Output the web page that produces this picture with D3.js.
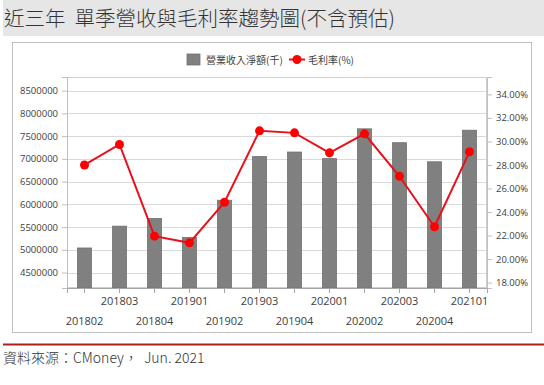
<!DOCTYPE html>
<html>
<head>
<meta charset="utf-8">
<script src="https://cdn.jsdelivr.net/npm/d3@7"></script>
<style>
  body { margin: 0; background: #fff; }
  svg text { font-family: "Open Sans", "Noto Sans CJK TC", sans-serif; white-space: pre; }
</style>
</head>
<body>
<div id="chart"></div>
<script>
// data
var quarters = ["201802","201803","201804","201901","201902","201903",
                "201904","202001","202002","202003","202004","202101"];
var revenue = [5040000, 5520000, 5690000, 5270000, 6090000, 7050000,
               7150000, 7005000, 7660000, 7355000, 6935000, 7630000];
var margin_pct = [28.0, 29.74, 21.95, 21.38, 24.83, 30.9,
                  30.73, 29.03, 30.65, 27.04, 22.75, 29.12];
var leftTicks = [4500000, 5000000, 5500000, 6000000, 6500000, 7000000, 7500000, 8000000, 8500000];
var rightTicks = [18, 20, 22, 24, 26, 28, 30, 32, 34];

var width = 544, height = 385;
var plot = {left: 67, right: 487, top: 77, bottom: 288};

var svg = d3.select("#chart").append("svg")
  .attr("width", width)
  .attr("height", height);

// title bar
svg.append("rect").attr("x", 3).attr("y", 0).attr("width", width - 3).attr("height", 36)
  .attr("fill", "#e6e6e6");
svg.append("text")
  .attr("x", 4).attr("y", 26)
  .style("font-family", "'Noto Sans CJK TC', sans-serif")
  .style("font-size", "20.5px")
  .style("font-weight", 300)
  .attr("fill", "#333")
  .text("近三年  單季營收與毛利率趨勢圖(不含預估)");

// chart frame
svg.append("rect").attr("x", 12.5).attr("y", 42.5).attr("width", 519).attr("height", 290)
  .attr("fill", "#fff").attr("stroke", "#bfbfbf");

var x = d3.scaleBand().domain(quarters).range([plot.left, plot.right]).paddingInner(0.6).paddingOuter(0.3);
var yL = d3.scaleLinear().domain([4160000, 8800000]).range([plot.bottom, plot.top]);
var yR = d3.scaleLinear().domain([17.54, 35.48]).range([plot.bottom, plot.top]);

// gridlines
svg.append("g").selectAll("line").data(leftTicks).enter().append("line")
  .attr("x1", plot.left).attr("x2", plot.right)
  .attr("y1", function(d){ return Math.round(yL(d)) + 0.5; })
  .attr("y2", function(d){ return Math.round(yL(d)) + 0.5; })
  .attr("stroke", "#d9d9d9");

// plot border
svg.append("rect").attr("x", plot.left + 0.5).attr("y", plot.top + 0.5)
  .attr("width", plot.right - plot.left - 1).attr("height", plot.bottom - plot.top - 1)
  .attr("fill", "none").attr("stroke", "#d0d0d0");

// bars
svg.append("g").selectAll("rect").data(revenue).enter().append("rect")
  .attr("x", function(d, i){ return x(quarters[i]); })
  .attr("width", x.bandwidth())
  .attr("y", function(d){ return yL(d); })
  .attr("height", function(d){ return plot.bottom - yL(d); })
  .attr("fill", "#808080")
  .attr("stroke", "#707070")
  .attr("stroke-width", 0.8);

// left axis
var axL = svg.append("g").attr("transform", "translate(" + plot.left + ",0)")
  .call(d3.axisLeft(yL).tickValues(leftTicks).tickSize(5).tickPadding(4).tickFormat(d3.format("d")));
axL.select(".domain").attr("stroke", "#bfbfbf");
axL.selectAll(".tick line").attr("stroke", "#bfbfbf");
axL.selectAll("text").attr("fill", "#404040").style("font-size", "9.5px");

// right axis
var axR = svg.append("g").attr("transform", "translate(" + plot.right + ",0)")
  .call(d3.axisRight(yR).tickValues(rightTicks).tickSize(5).tickPadding(4)
    .tickFormat(function(d){ return d.toFixed(2) + "%"; }));
axR.select(".domain").attr("stroke", "#bfbfbf");
axR.selectAll(".tick line").attr("stroke", "#bfbfbf");
axR.selectAll("text").attr("fill", "#404040").style("font-size", "9.5px");

// bottom axis
var axB = svg.append("g").attr("transform", "translate(0," + plot.bottom + ")")
  .call(d3.axisBottom(x).tickSize(5).tickPadding(4));
axB.select(".domain").attr("stroke", "#a6a6a6");
axB.selectAll(".tick line").attr("stroke", "#a6a6a6");
axB.selectAll("text")
  .attr("fill", "#404040")
  .style("font-size", "11px")
  .attr("dy", function(d, i){ return i % 2 == 0 ? "2.55em" : "0.75em"; });

// margin line
var line = d3.line()
  .x(function(d, i){ return x(quarters[i]) + x.bandwidth() / 2; })
  .y(function(d){ return yR(d); });
svg.append("path").datum(margin_pct)
  .attr("d", line)
  .attr("fill", "none")
  .attr("stroke", "#e8101c")
  .attr("stroke-width", 2);
svg.append("g").selectAll("circle").data(margin_pct).enter().append("circle")
  .attr("cx", function(d, i){ return x(quarters[i]) + x.bandwidth() / 2; })
  .attr("cy", function(d){ return yR(d); })
  .attr("r", 4.5)
  .attr("fill", "#ff0000");

// legend
var lg = svg.append("g");
lg.append("rect").attr("x", 187).attr("y", 54).attr("width", 13).attr("height", 11)
  .attr("fill", "#808080").attr("stroke", "#707070").attr("stroke-width", 0.8);
lg.append("text").attr("x", 206).attr("y", 63.5)
  .style("font-family", "'Noto Sans CJK TC', sans-serif")
  .style("font-size", "10px").attr("fill", "#404040")
  .text("營業收入淨額(千)");
lg.append("line").attr("x1", 289).attr("x2", 305).attr("y1", 59.5).attr("y2", 59.5)
  .attr("stroke", "#e8101c").attr("stroke-width", 2);
lg.append("circle").attr("cx", 297).attr("cy", 59.5).attr("r", 4.5).attr("fill", "#ff0000");
lg.append("text").attr("x", 308).attr("y", 63.5)
  .style("font-family", "'Noto Sans CJK TC', sans-serif")
  .style("font-size", "10px").attr("fill", "#404040")
  .text("毛利率(%)");

// footer
svg.append("rect").attr("x", 3).attr("y", 343.5).attr("width", width - 3).attr("height", 2)
  .attr("fill", "#b01c1c");
svg.append("text").attr("x", 3).attr("y", 363)
  .style("font-family", "'Noto Sans CJK TC', sans-serif")
  .style("font-size", "14px")
  .style("font-weight", 300)
  .attr("fill", "#333")
  .text("資料來源：CMoney，  Jun. 2021");
</script>
</body>
</html>
